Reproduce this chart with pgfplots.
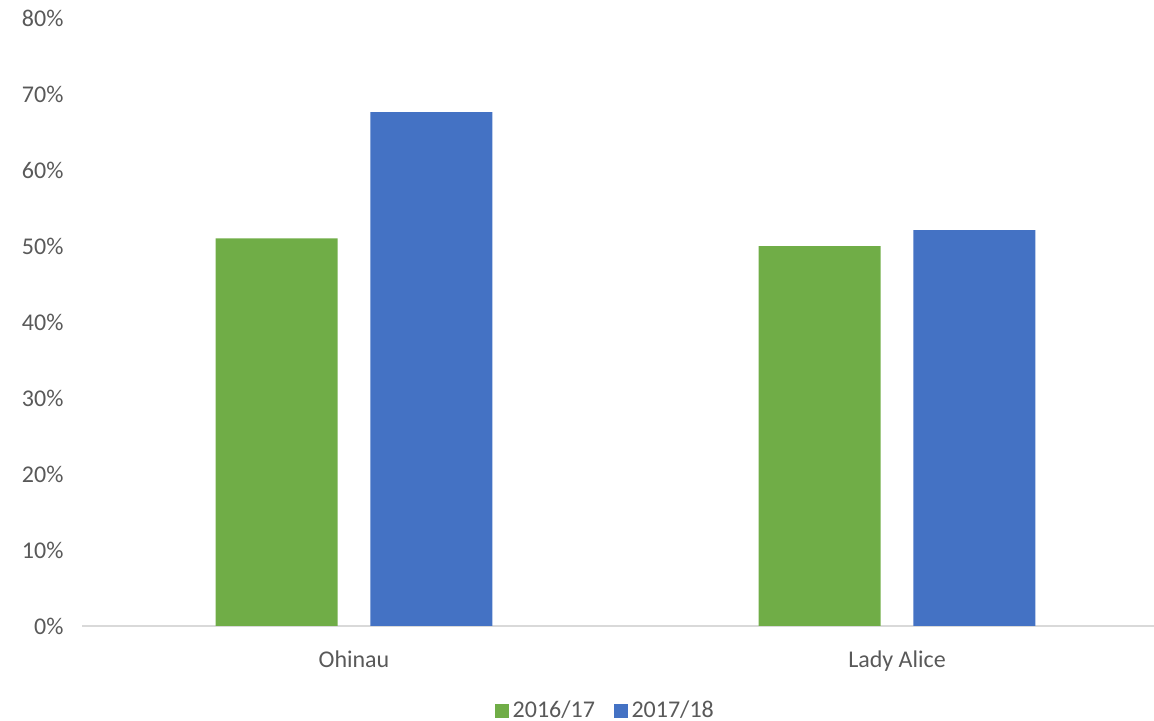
\documentclass[border=0pt]{standalone}
\usepackage{pgfplots}
\pgfplotsset{compat=1.18}
\usepackage{fontspec}
\setmainfont{Carlito}
\definecolor{cgreen}{HTML}{70AD47}
\definecolor{cblue}{HTML}{4472C4}
\definecolor{caxis}{HTML}{D9D9D9}
\definecolor{ctext}{HTML}{595959}
\begin{document}
\begin{tikzpicture}
\path[use as bounding box] (-41.25pt,-47.5pt) rectangle (535.75pt,313pt);
\begin{axis}[
  at={(0pt,0pt)}, anchor=south west,
  scale only axis,
  width=535.75pt, height=304pt,
  xmin=-0.5, xmax=1.4733,
  ymin=0, ymax=80,
  ybar=16.3pt,
  bar width=61pt,
  axis lines=left,
  x axis line style={draw=caxis, line width=0.9pt, -},
  y axis line style={draw=none},
  major tick length=0pt,
  xtick={0,1},
  xticklabels={Ohinau, Lady Alice},
  ytick={0,10,...,80},
  yticklabel={\pgfmathprintnumber{\tick}\%},
  /pgf/number format/assume math mode=true,
  ticklabel style={font=\fontsize{12}{14}\selectfont, text=ctext},
  xticklabel style={yshift=-9pt},
  yticklabel style={xshift=-6pt},
  legend style={draw=none, at={(0.489,-0.14)}, anchor=center,
    font=\fontsize{12}{14}\selectfont, text=ctext,
    legend columns=2, /tikz/every even column/.append style={column sep=7.5pt}},
  legend image code/.code={\fill[#1] (0pt,-3.4pt) rectangle (6.8pt,3.4pt);},
  clip=false,
]
\addplot[fill=cgreen, draw=none] coordinates {(0,51.0) (1,50.0)};
\addplot[fill=cblue, draw=none] coordinates {(0,67.6) (1,52.1)};
\legend{2016/17, 2017/18}
\end{axis}
\end{tikzpicture}
\end{document}
